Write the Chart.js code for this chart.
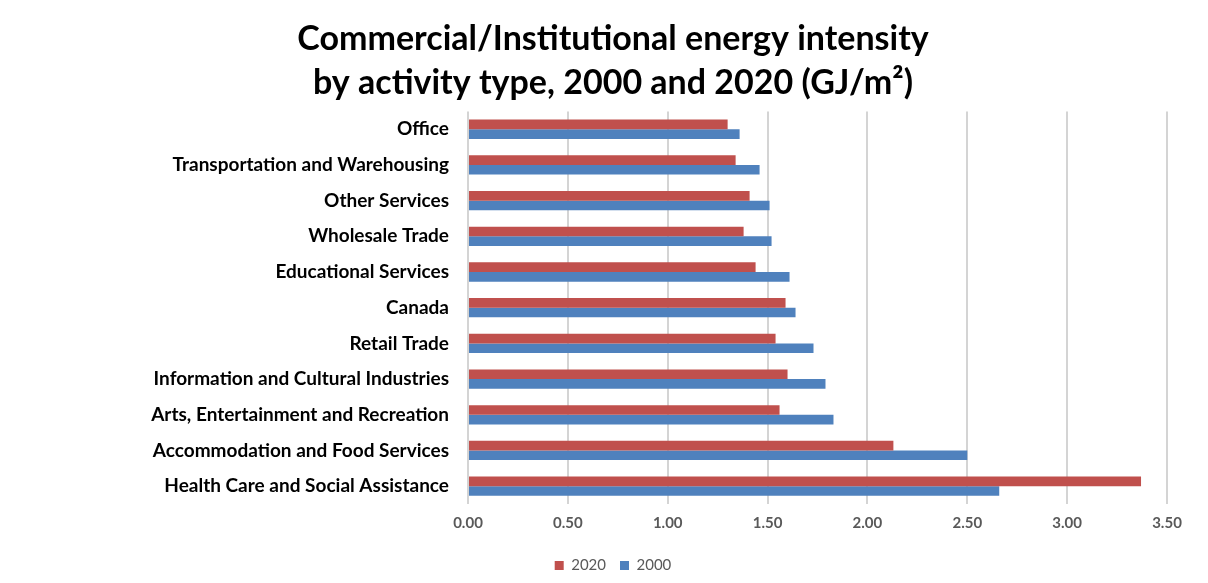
<!DOCTYPE html>
<html>
<head>
<meta charset="utf-8">
<script src="https://cdn.jsdelivr.net/npm/chart.js@4"></script>
<style>
  html, body { margin: 0; padding: 0; background: #fff; }
  #wrap { width: 1208px; height: 583px; }
</style>
</head>
<body>
<div id="wrap"><canvas id="chart" width="1208" height="583"></canvas></div>
<script>
let categories = [
    'Office',
    'Transportation and Warehousing',
    'Other Services',
    'Wholesale Trade',
    'Educational Services',
    'Canada',
    'Retail Trade',
    'Information and Cultural Industries',
    'Arts, Entertainment and Recreation',
    'Accommodation and Food Services',
    'Health Care and Social Assistance'
];
let values2020 = [1.30, 1.34, 1.41, 1.38, 1.44, 1.59, 1.54, 1.60, 1.56, 2.13, 3.37];
let values2000 = [1.36, 1.46, 1.51, 1.52, 1.61, 1.64, 1.73, 1.79, 1.83, 2.50, 2.66];
let xTicks = [0, 0.5, 1, 1.5, 2, 2.5, 3, 3.5];

let fontFamily = 'Lato, "Open Sans", sans-serif';

let chart = new Chart(document.getElementById('chart'), {
    type: 'bar',
    data: {
        labels: categories,
        datasets: [{
            label: '2020',
            data: values2020,
            backgroundColor: '#C0504D'
        }, {
            label: '2000',
            data: values2000,
            backgroundColor: '#4F81BD'
        }]
    },
    options: {
        indexAxis: 'y',
        responsive: false,
        animation: false,
        layout: {
            // left padding keeps the title centred like the original
            padding: { top: 0, right: 41, bottom: 0, left: 59 }
        },
        datasets: {
            bar: { categoryPercentage: 0.54, barPercentage: 1 }
        },
        scales: {
            x: {
                min: 0,
                max: 3.5,
                afterBuildTicks: scale => {
                    scale.ticks = xTicks.map(v => ({ value: v }));
                },
                afterFit: scale => { scale.height = 40; },
                border: { display: false },
                grid: {
                    color: '#d4d4d4',
                    lineWidth: 2,
                    drawTicks: false
                },
                ticks: {
                    padding: 10,
                    color: '#595959',
                    font: { family: fontFamily, size: 15, weight: 'bold' },
                    callback: value => value.toFixed(2)
                }
            },
            y: {
                afterFit: scale => { scale.width = 409; },
                border: { display: false },
                grid: { display: false, drawTicks: false },
                ticks: {
                    padding: 19,
                    color: '#000',
                    font: { family: fontFamily, size: 19, weight: 'bold' }
                }
            }
        },
        plugins: {
            title: {
                display: true,
                text: ['Commercial/Institutional energy intensity', 'by activity type, 2000 and 2020 (GJ/m²)'],
                color: '#000',
                font: { family: fontFamily, size: 34, weight: 'bold', lineHeight: 1.3 },
                padding: { top: 17, bottom: 6 }
            },
            legend: {
                position: 'bottom',
                labels: {
                    boxWidth: 9,
                    boxHeight: 9,
                    color: '#595959',
                    font: { family: fontFamily, size: 15 },
                    padding: 14
                }
            },
            tooltip: { enabled: false }
        }
    }
});
</script>
</body>
</html>
